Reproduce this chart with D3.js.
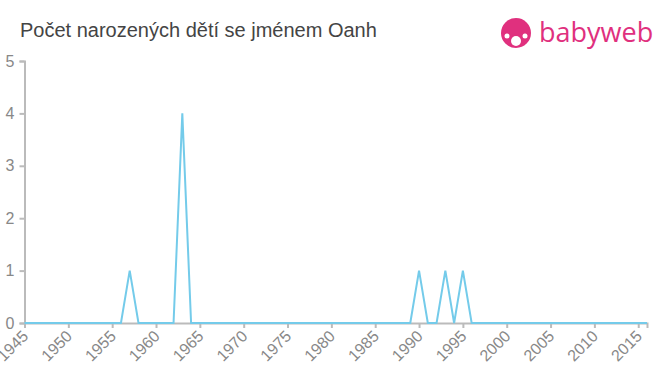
<!DOCTYPE html>
<html>
<head>
<meta charset="utf-8">
<script src="https://cdn.jsdelivr.net/npm/d3@7"></script>
<style>
	body { margin: 0; background: #fff; }
	svg { display: block; font-family: "Liberation Sans", Arial, sans-serif; }
</style>
</head>
<body>
<svg id="chart" width="660" height="375"></svg>
<script>
	const title = "Počet narozených dětí se jménem Oanh";
	const years = d3.range(1945, 2017);
	// non-zero years only, all other years are 0
	const peakYears = [1957, 1963, 1990, 1993, 1995];
	const peakValues = [1, 4, 1, 1, 1];
	const yTicks = [0, 1, 2, 3, 4, 5];
	const xTicks = d3.range(1945, 2016, 5);

	const counts = years.map(y => {
		const i = peakYears.indexOf(y);
		return { year: y, value: i < 0 ? 0 : peakValues[i] };
	});

	const svg = d3.select("#chart");

	const x = d3.scaleLinear().domain([1945, 2016]).range([24.5, 647]);
	const y = d3.scaleLinear().domain([0, 5]).range([323, 61]);

	svg.append("text")
		.attr("x", 20).attr("y", 37)
		.attr("font-size", 20)
		.attr("fill", "#444")
		.text(title);

	// logo
	const logo = svg.append("g").attr("transform", "translate(516,33)");
	logo.append("circle").attr("r", 15).attr("fill", "#e0307e");
	logo.append("circle").attr("cx", 0).attr("cy", 8).attr("r", 5).attr("fill", "#fff");
	logo.append("circle").attr("cx", -9).attr("cy", 3).attr("r", 2.5).attr("fill", "#fff");
	logo.append("circle").attr("cx", 9).attr("cy", 3).attr("r", 2.5).attr("fill", "#fff");
	logo.append("text")
		.attr("x", 23).attr("y", 9)
		.attr("font-size", 27)
		.attr("fill", "#e0307e")
		.attr("font-family", "'Open Sans', sans-serif")
		.text("babyweb");

	// axes
	const xAxis = svg.append("g")
		.attr("transform", `translate(0,${y(0)})`)
		.call(d3.axisBottom(x).tickValues(xTicks).tickFormat(d3.format("d")).tickSize(5));
	xAxis.select(".domain").attr("stroke", "#bbb").attr("stroke-width", 2);
	xAxis.selectAll(".tick line").attr("stroke", "#bbb").attr("stroke-width", 2);
	xAxis.selectAll(".tick text")
		.attr("fill", "#888")
		.attr("font-size", 16)
		.attr("text-anchor", "end")
		.attr("x", -7)
		.attr("y", 13)
		.attr("dy", 0)
		.attr("transform", "rotate(-45)");

	const yAxis = svg.append("g")
		.attr("transform", `translate(${x(1945)},0)`)
		.call(d3.axisLeft(y).tickValues(yTicks).tickFormat(d3.format("d")).tickSize(5).tickPadding(5));
	yAxis.select(".domain").attr("stroke", "#bbb").attr("stroke-width", 2);
	yAxis.selectAll(".tick line").attr("stroke", "#bbb").attr("stroke-width", 2);
	yAxis.selectAll(".tick text").attr("fill", "#888").attr("font-size", 16);

	const line = d3.line().x(d => x(d.year)).y(d => y(d.value));
	svg.append("path")
		.datum(counts)
		.attr("fill", "none")
		.attr("stroke", "#74cbea")
		.attr("stroke-width", 2)
		.attr("d", line);
</script>
</body>
</html>
